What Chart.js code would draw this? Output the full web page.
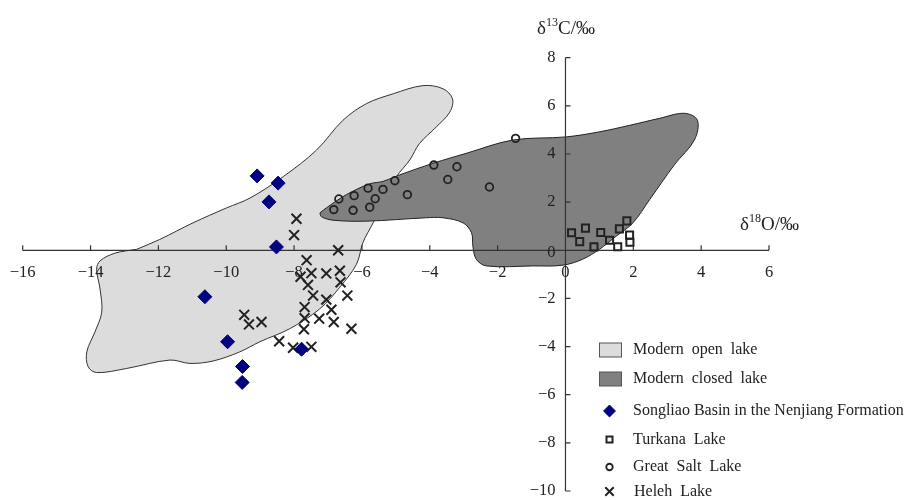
<!DOCTYPE html>
<html>
<head>
<meta charset="utf-8">
<script src="https://cdn.jsdelivr.net/npm/chart.js@4.4.0/dist/chart.umd.min.js"></script>
<style>
  html, body { margin: 0; padding: 0; background: #fff; }
  #wrap { width: 907px; height: 500px; position: relative; }
</style>
</head>
<body>
<div id="wrap"><canvas id="chart"></canvas></div>
<script>
// Axis ticks
const xTicks = [-16, -14, -12, -10, -8, -6, -4, -2, 0, 2, 4, 6];
const yTicks = [-10, -8, -6, -4, -2, 0, 2, 4, 6, 8];

// Field outlines (δ18O, δ13C)
const openLake = [
  [-12.64, 0.04], [-11.96, 0.45], [-10.98, 1.14], [-9.99, 1.76], [-9.30, 2.17],
  [-8.32, 3.06], [-7.34, 4.16], [-6.56, 5.40], [-5.87, 6.09], [-5.08, 6.50],
  [-4.20, 6.84], [-3.61, 6.71], [-3.33, 6.29], [-3.41, 5.74], [-3.81, 5.12],
  [-4.30, 4.44], [-4.59, 3.75], [-4.98, 3.06], [-5.33, 2.10], [-5.67, 1.14],
  [-5.97, 0.32], [-6.16, -0.58], [-6.65, -1.53], [-7.24, -2.43], [-8.13, -3.26],
  [-9.01, -3.80], [-9.60, -4.22], [-10.39, -4.60], [-11.07, -4.70], [-11.66, -4.56],
  [-12.94, -4.91], [-13.82, -5.08], [-14.07, -4.84], [-14.11, -4.22], [-13.87, -3.39],
  [-13.67, -2.57], [-13.72, -1.61], [-13.82, -0.78], [-13.72, -0.44], [-13.28, -0.12]
];
const closedLake = [
  [-7.24, 1.55], [-7.05, 1.76], [-6.46, 2.31], [-5.77, 2.76], [-5.38, 2.86],
  [-4.89, 3.13], [-3.91, 3.61], [-2.92, 4.03], [-1.55, 4.58], [0.02, 4.71],
  [1.00, 4.92], [1.89, 5.19], [2.77, 5.48], [3.51, 5.69], [3.89, 5.40],
  [3.80, 4.58], [3.21, 3.55], [2.48, 2.10], [1.99, 1.14], [1.50, 0.59],
  [1.00, 0.04], [0.51, -0.37], [-0.08, -0.62], [-0.96, -0.65], [-2.33, -0.65],
  [-2.63, -0.37], [-2.73, 0.18], [-2.77, 0.73], [-3.02, 1.14], [-3.61, 1.35],
  [-4.10, 1.35], [-5.87, 1.21], [-6.85, 1.25], [-7.19, 1.39]
];

// Samples
const songliao = [
  [-9.09, 3.09], [-8.47, 2.79], [-8.74, 2.01], [-8.52, 0.14], [-10.63, -1.93],
  [-9.96, -3.80], [-9.52, -4.83], [-9.53, -5.49], [-7.78, -4.11]
];
const turkana = [
  [0.18, 0.73], [0.42, 0.36], [0.59, 0.92], [0.84, 0.14], [1.04, 0.74],
  [1.30, 0.42], [1.54, 0.15], [1.59, 0.89], [1.81, 1.22], [1.89, 0.63], [1.90, 0.33]
];
const greatSalt = [
  [-6.68, 2.13], [-6.83, 1.69], [-6.23, 2.27], [-6.26, 1.66], [-5.82, 2.58],
  [-5.61, 2.14], [-5.77, 1.79], [-5.38, 2.53], [-5.03, 2.89], [-4.66, 2.31],
  [-3.88, 3.54], [-3.20, 3.47], [-3.47, 2.94], [-2.24, 2.63], [-1.47, 4.65]
];
const heleh = [
  [-7.93, 1.31], [-8.00, 0.63], [-6.70, 0.00], [-7.63, -0.41], [-7.81, -1.10],
  [-7.49, -0.95], [-7.05, -0.96], [-6.65, -0.85], [-6.63, -1.33], [-7.59, -1.44],
  [-7.44, -1.88], [-7.05, -2.05], [-6.43, -1.88], [-6.90, -2.47], [-7.69, -2.36],
  [-7.69, -2.82], [-7.26, -2.84], [-6.83, -2.98], [-6.31, -3.26], [-7.71, -3.28],
  [-9.47, -2.68], [-9.33, -3.08], [-8.96, -2.98], [-8.44, -3.78], [-8.03, -4.05],
  [-7.49, -4.01]
];

const toXY = arr => arr.map(([x, y]) => ({ x, y }));
const closeLoop = arr => toXY(arr.concat([arr[0]]));
const fmt = v => (v < 0 ? '\u2212' + Math.abs(v) : String(v));
const SERIF = '"Liberation Serif", "Times New Roman", serif';

// Axes through the origin, drawn on top of the two fields
const crossAxes = {
  id: 'crossAxes',
  afterDatasetDraw(chart, args) {
    if (args.index !== 1) return;
    const { ctx } = chart;
    const { x, y } = chart.scales;
    const x0 = x.getPixelForValue(0);
    const y0 = y.getPixelForValue(0);
    ctx.save();
    ctx.strokeStyle = '#333';
    ctx.lineWidth = 1.2;
    ctx.beginPath();
    ctx.moveTo(x.getPixelForValue(xTicks[0]), y0);
    ctx.lineTo(x.getPixelForValue(xTicks[xTicks.length - 1]), y0);
    ctx.moveTo(x0, y.getPixelForValue(yTicks[0]));
    ctx.lineTo(x0, y.getPixelForValue(yTicks[yTicks.length - 1]));
    xTicks.forEach(v => {
      const px = x.getPixelForValue(v);
      ctx.moveTo(px, y0);
      ctx.lineTo(px, y0 - 5);
    });
    yTicks.forEach(v => {
      const py = y.getPixelForValue(v);
      ctx.moveTo(x0, py);
      ctx.lineTo(x0 + 5, py);
    });
    ctx.stroke();

    ctx.fillStyle = '#222';
    ctx.font = '16.5px ' + SERIF;
    ctx.textBaseline = 'middle';
    ctx.textAlign = 'center';
    xTicks.forEach(v => ctx.fillText(fmt(v), x.getPixelForValue(v), y0 + 22));
    ctx.textAlign = 'right';
    yTicks.forEach(v => ctx.fillText(fmt(v), x0 - 10, y.getPixelForValue(v) + (v === 0 ? 2 : 0)));

    // axis titles with superscripts
    const title = (px, py, sup, rest) => {
      ctx.textAlign = 'left';
      ctx.textBaseline = 'alphabetic';
      ctx.font = '19px ' + SERIF;
      ctx.fillText('\u03b4', px, py);
      let cx = px + ctx.measureText('\u03b4').width;
      ctx.font = '12px ' + SERIF;
      ctx.fillText(sup, cx, py - 8);
      cx += ctx.measureText(sup).width;
      ctx.font = '19px ' + SERIF;
      ctx.fillText(rest, cx, py);
    };
    title(537, 34, '13', 'C/\u2030');
    title(740, 230, '18', 'O/\u2030');
    ctx.restore();
  }
};

// Legend in the lower right corner
const cornerLegend = {
  id: 'cornerLegend',
  afterDraw(chart) {
    const { ctx } = chart;
    const rows = [350, 379, 411, 439.5, 467, 491.5];
    ctx.save();
    ctx.font = '16px ' + SERIF;
    ctx.textBaseline = 'middle';
    ctx.textAlign = 'left';
    chart.data.datasets.forEach((ds, i) => {
      const ry = rows[i];
      ctx.fillStyle = ds.backgroundColor;
      ctx.strokeStyle = ds.borderColor;
      if (ds.showLine) {
        ctx.lineWidth = 1;
        ctx.fillRect(599.5, ry - 7, 22, 14);
        ctx.strokeStyle = '#555';
        ctx.strokeRect(599.5, ry - 7, 22, 14);
      } else {
        ctx.lineWidth = ds.borderWidth;
        Chart.helpers.drawPoint(ctx, {
          pointStyle: ds.pointStyle,
          radius: ds.pointRadius * 0.85,
          rotation: 0,
          borderWidth: ds.borderWidth
        }, 609.5, ry);
      }
      ctx.fillStyle = '#222';
      ctx.wordSpacing = i === 2 ? '0px' : '4px';
      ctx.fillText(ds.label, i === 5 ? 634 : 633, ry);
    });
    ctx.restore();
  }
};

const fieldStyle = {
  showLine: true,
  fill: 'shape',
  pointRadius: 0,
  borderWidth: 1,
  tension: 0.35
};

const ctx = document.getElementById('chart').getContext('2d');
new Chart(ctx, {
  type: 'scatter',
  data: {
    datasets: [
      { ...fieldStyle, label: 'Modern open lake', data: closeLoop(openLake),
        backgroundColor: '#dcdcdc', borderColor: '#333', order: 10 },
      { ...fieldStyle, label: 'Modern closed lake', data: closeLoop(closedLake),
        backgroundColor: '#808080', borderColor: '#222', order: 9 },
      { label: 'Songliao Basin in the Nenjiang Formation', data: toXY(songliao),
        pointStyle: 'rectRot', pointRadius: 7, backgroundColor: '#000080',
        borderColor: '#000080', borderWidth: 1, order: 0 },
      { label: 'Turkana Lake', data: toXY(turkana),
        pointStyle: 'rect', pointRadius: 5, backgroundColor: 'rgba(0,0,0,0)',
        borderColor: '#222', borderWidth: 2, order: 1 },
      { label: 'Great Salt Lake', data: toXY(greatSalt),
        pointStyle: 'circle', pointRadius: 3.8, backgroundColor: 'rgba(0,0,0,0)',
        borderColor: '#222', borderWidth: 1.8, order: 2 },
      { label: 'Heleh Lake', data: toXY(heleh),
        pointStyle: 'crossRot', pointRadius: 7, backgroundColor: 'rgba(0,0,0,0)',
        borderColor: '#222', borderWidth: 2, order: 3 }
    ]
  },
  options: {
    responsive: true,
    maintainAspectRatio: false,
    animation: false,
    events: [],
    layout: { padding: { left: 22.7, right: 138, top: 57.7, bottom: 5.7 } },
    scales: {
      x: { type: 'linear', min: -16, max: 6, display: false },
      y: { type: 'linear', min: -10, max: 8, display: false }
    },
    plugins: {
      legend: { display: false },
      tooltip: { enabled: false }
    }
  },
  plugins: [crossAxes, cornerLegend]
});
</script>
</body>
</html>
